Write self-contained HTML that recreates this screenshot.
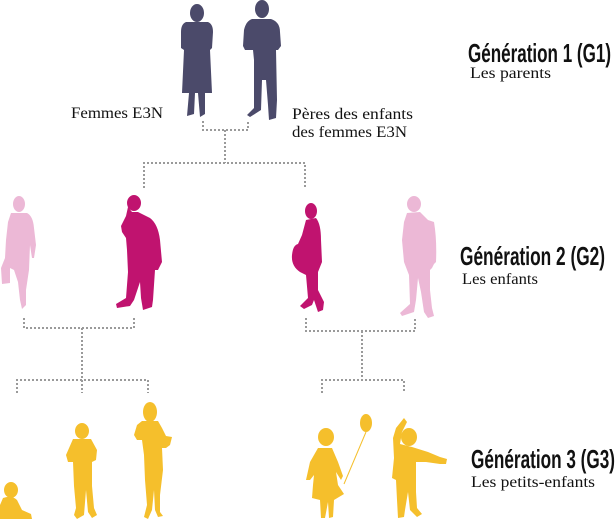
<!DOCTYPE html>
<html><head><meta charset="utf-8"><style>
html,body{margin:0;padding:0;background:#fff;}
svg{display:block;}
.t{font-family:"Liberation Sans Narrow","Liberation Sans",sans-serif;font-weight:bold;fill:#111;}
.s{font-family:"Liberation Serif",serif;fill:#111;}
.d{stroke:#9a9a9a;stroke-width:2;stroke-dasharray:2 2;fill:none;}
</style></head><body>
<svg width="616" height="519" viewBox="0 0 616 519" xmlns="http://www.w3.org/2000/svg">
<path class="d" d="M203 121 V130 H248 V121 M225 130 V163 M144 188 V163 H305 V188"/>
<path class="d" d="M24 318 V328 H134 V318 M82 328 V380 M17 393 V380 H148 V393 M82 380 V393"/>
<path class="d" d="M306 318 V331 H415 V318 M362 331 V380 M322 393 V380 H404 V393"/>

<g fill="#4b4a6a">
<ellipse cx="197" cy="13" rx="7" ry="9"/>
<path d="M186 22 H208 Q213 24 213 32 L212 48 L210 50 L212 93 H205 L205 114 L200 117 L198 93 H195 L194 114 L187 116 L189 93 H182 L184 50 L181 48 L181 32 Q181 24 186 22Z"/>
<ellipse cx="262" cy="9" rx="7" ry="9"/>
<path d="M252 19 H271 Q280 22 280 32 L281 46 L278 50 L276 50 L277 100 L276 118 L269 120 L268 105 L266 80 H262 L261 110 L250 117 L247 115 L254 108 L254 60 L253 50 L245 50 L243 46 L244 30 Q246 21 252 19Z"/>
</g>

<g fill="#ecb8d6">
<ellipse cx="19" cy="204" rx="6" ry="8"/>
<path d="M11 213 H27 Q33 216 34 228 L36 245 L34 258 H32 L30 245 L29 270 L26 290 L26 305 L22 309 L20 300 L18 282 L14 270 L10 268 L10 283 L2 284 L1 268 L5 258 L6 240 L8 222Z"/>
<ellipse cx="414" cy="204" rx="7" ry="8"/>
<path d="M407 213 L420 212 L428 220 L434 222 Q437 240 436 262 L434 264 L432 268 L430 270 L430 290 L432 308 L434 316 L428 318 L424 312 L421 292 L418 278 L416 300 L414 312 L402 316 L400 313 L410 304 L409 275 L404 262 L402 240 L404 222Z"/>
</g>
<g fill="#c0136f">
<ellipse cx="134" cy="203" rx="7" ry="8"/>
<path d="M128 207 L132 212 L138 212 L150 218 Q158 224 160 240 L162 262 L158 270 L155 270 L153 300 L152 307 L143 310 L141 298 L140 282 L134 300 L130 306 L117 308 L116 304 L126 298 L128 272 L127 250 L126 238 L122 232 L121 226 L126 216Z"/>
<ellipse cx="311" cy="211" rx="6" ry="8"/>
<path d="M306 220 L316 218 Q321 224 321 240 L322 262 L318 272 L318 290 L324 302 L323 310 L318 312 L314 300 L312 305 L304 309 L300 306 L308 298 L306 275 L300 272 Q291 266 292 255 Q293 245 298 244 L302 235 Z"/>
</g>

<g fill="#f5bf2c">
<ellipse cx="11" cy="490" rx="7" ry="8"/>
<path d="M3 498 Q12 495 17 500 L22 510 L31 514 L32 519 H0 L0 505Z"/>
<ellipse cx="82" cy="431" rx="7" ry="8"/>
<path d="M73 439 H91 L97 450 L96 460 L92 462 L92 486 L94 508 L97 515 L92 518 L88 512 L86 490 L84 515 L77 519 L74 515 L76 508 L74 486 L73 462 L68 462 L66 455 Z"/>
<ellipse cx="150" cy="412" rx="7" ry="10"/>
<path d="M142 421 H158 L162 428 L166 436 L172 437 L170 445 L166 448 L162 448 L163 470 L160 495 L160 512 L163 516 L158 517 L155 510 L154 490 L152 510 L148 519 L144 517 L147 505 L145 480 L144 455 L142 440 L137 440 L134 435 L137 425Z"/>
<ellipse cx="326" cy="437" rx="8" ry="9"/>
<path d="M318 448 H332 L338 462 L343 476 L341 480 L336 472 L338 485 L344 494 L334 500 L333 517 L329 518 L328 502 L325 518 L321 518 L320 500 L312 498 L313 485 L314 475 L310 480 L306 480 L310 462Z"/>
<ellipse cx="366" cy="423" rx="6" ry="9"/>
<ellipse cx="409" cy="437" rx="8" ry="9"/>
<path d="M404 418 L407 422 L402 432 L400 444 L412 447 L428 452 L440 457 L447 459 L446 464 L440 464 L426 462 L416 462 L416 492 L417 508 L422 514 L417 517 L410 510 L408 492 L405 510 L404 517 L398 518 L397 500 L396 480 L392 478 L394 458 L393 438 L396 428 Z"/>
</g>
<path d="M366 432 L344 484" stroke="#f5bf2c" stroke-width="1" fill="none"/>

<text class="s" x="71" y="118" font-size="16" textLength="92" lengthAdjust="spacingAndGlyphs">Femmes E3N</text>
<text class="s" x="292" y="119" font-size="16" textLength="121" lengthAdjust="spacingAndGlyphs">Pères des enfants</text>
<text class="s" x="292" y="137" font-size="16" textLength="115" lengthAdjust="spacingAndGlyphs">des femmes E3N</text>

<text class="t" x="468" y="62" font-size="26" textLength="143" lengthAdjust="spacingAndGlyphs">Génération 1 (G1)</text>
<text class="s" x="470" y="78" font-size="16" textLength="81" lengthAdjust="spacingAndGlyphs">Les parents</text>
<text class="t" x="460" y="265" font-size="26" textLength="145" lengthAdjust="spacingAndGlyphs">Génération 2 (G2)</text>
<text class="s" x="462" y="284" font-size="16" textLength="76" lengthAdjust="spacingAndGlyphs">Les enfants</text>
<text class="t" x="471" y="468" font-size="26" textLength="144" lengthAdjust="spacingAndGlyphs">Génération 3 (G3)</text>
<text class="s" x="471" y="487" font-size="16" textLength="124" lengthAdjust="spacingAndGlyphs">Les petits-enfants</text>
</svg>
</body></html>
